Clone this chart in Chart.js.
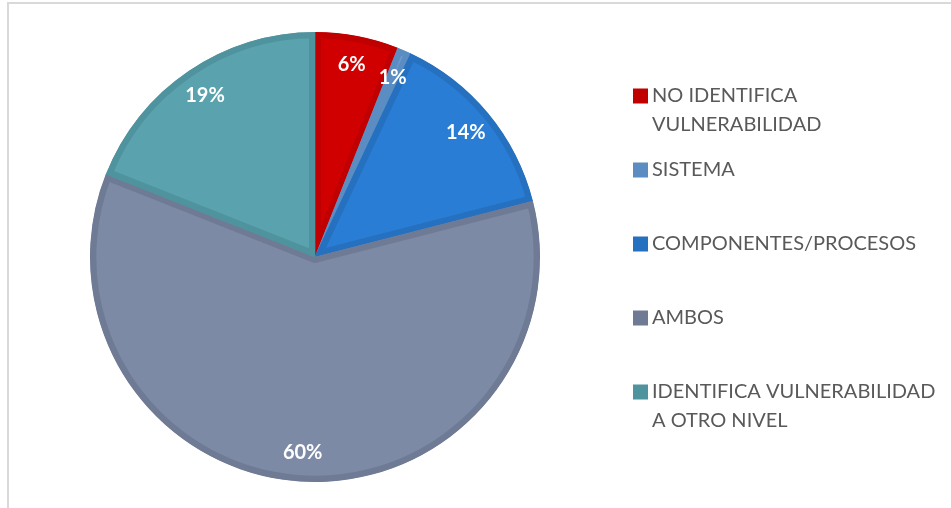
<!DOCTYPE html>
<html>
<head>
<meta charset="utf-8">
<script src="https://cdn.jsdelivr.net/npm/chart.js@4/dist/chart.umd.min.js"></script>
<style>
  html, body { margin: 0; padding: 0; background: #ffffff; }
  #wrap { position: relative; width: 951px; height: 508px; }
</style>
</head>
<body>
<div id="wrap"><canvas id="c" width="951" height="508"></canvas></div>
<script>
// Categories (each label split into its display lines)
const categories = [
  ['NO IDENTIFICA', 'VULNERABILIDAD'],
  ['SISTEMA'],
  ['COMPONENTES/PROCESOS'],
  ['AMBOS'],
  ['IDENTIFICA VULNERABILIDAD', 'A OTRO NIVEL']
];
// Share of responses, in percent
const shares = [6, 1, 14, 60, 19];
const fillColors   = ['#D10000', '#6B9BCF', '#2A7DD4', '#7D8AA6', '#5AA2AD'];
const borderColors = ['#C00000', '#5B8DC2', '#2670C0', '#6F7B95', '#4F939E'];

// Thin frame along the top and left edges
const framePlugin = {
  id: 'frame',
  beforeDraw(chart) {
    const ctx = chart.ctx;
    ctx.save();
    ctx.strokeStyle = '#d9d9d9';
    ctx.lineWidth = 2;
    ctx.beginPath();
    ctx.moveTo(8, 508);
    ctx.lineTo(8, 3);
    ctx.lineTo(951, 3);
    ctx.stroke();
    ctx.restore();
  }
};

// Percentage labels placed near the outer rim of each slice
const valueLabels = {
  id: 'valueLabels',
  afterDatasetsDraw(chart) {
    const ctx = chart.ctx;
    const meta = chart.getDatasetMeta(0);
    const total = shares.reduce((a, b) => a + b, 0);
    ctx.save();
    ctx.fillStyle = '#ffffff';
    ctx.font = 'bold 20px Lato, "Open Sans", sans-serif';
    ctx.textAlign = 'center';
    ctx.textBaseline = 'middle';
    meta.data.forEach((arc, i) => {
      const p = arc.getProps(['x', 'y', 'startAngle', 'endAngle', 'outerRadius'], true);
      const mid = (p.startAngle + p.endAngle) / 2;
      const r = p.outerRadius * 0.87;
      const txt = Math.round(shares[i] / total * 100) + '%';
      ctx.fillText(txt, p.x + Math.cos(mid) * r, p.y + Math.sin(mid) * r);
    });
    ctx.restore();
  }
};

// Legend on the right with wrapped labels
const sideLegend = {
  id: 'sideLegend',
  afterDraw(chart) {
    const ctx = chart.ctx;
    const x0 = 633, textX = 652, firstY = 96, step = 74, lineH = 28.5, box = 15;
    ctx.save();
    ctx.font = '20px Lato, "Open Sans", sans-serif';
    ctx.textBaseline = 'middle';
    ctx.textAlign = 'left';
    categories.forEach((lines, i) => {
      const y = firstY + i * step;
      ctx.fillStyle = borderColors[i];
      ctx.fillRect(x0, y - box / 2, box, box);
      ctx.fillStyle = '#595959';
      lines.forEach((ln, j) => ctx.fillText(ln, textX, y + j * lineH));
    });
    ctx.restore();
  }
};

new Chart(document.getElementById('c'), {
  type: 'pie',
  data: {
    labels: categories,
    datasets: [{
      data: shares,
      backgroundColor: fillColors,
      borderColor: borderColors,
      borderWidth: 6,
      borderAlign: 'inner',
      hoverOffset: 0
    }]
  },
  options: {
    responsive: false,
    animation: false,
    events: [],
    radius: 225,
    layout: { padding: { left: 0, right: 321, top: 6, bottom: 0 } },
    plugins: {
      legend: { display: false },
      tooltip: { enabled: false }
    }
  },
  plugins: [framePlugin, valueLabels, sideLegend]
});
</script>
</body>
</html>
